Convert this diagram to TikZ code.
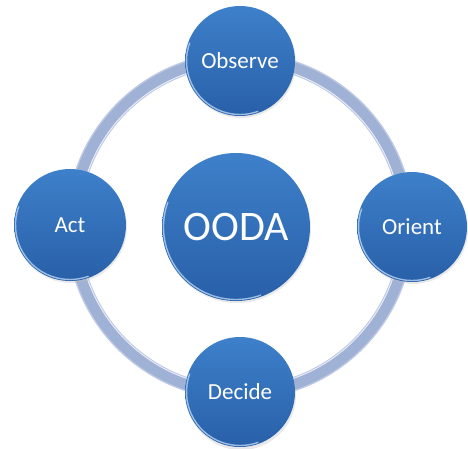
\documentclass[tikz,border=0pt]{standalone}
\usepackage{fontspec}
\setmainfont{Carlito}
\definecolor{blueTop}{RGB}{62,128,202}
\definecolor{blueBot}{RGB}{40,96,168}
\definecolor{ringEdge}{RGB}{190,202,228}
\definecolor{ringMid}{RGB}{160,177,214}
\definecolor{rimCol}{RGB}{175,205,240}
\tikzset{
  ball/.style={circle, inner sep=0pt, draw=none, top color=blueTop, bottom color=blueBot,
    text=white, font=\fontsize{23}{27}\selectfont},
  bigball/.style={ball, font=\fontsize{42}{48}\selectfont},
  rimline/.style={draw=rimCol, line width=1.4pt, opacity=0.85},
  shade/.style={fill=black!25, opacity=0.35, draw=none},
}
\begin{document}
\begin{tikzpicture}[x=1pt,y=1pt]
\useasboundingbox (0,0) rectangle (468,448);
\coordinate (ringc) at (240,222);
\draw[ringEdge, line width=14pt] (ringc) circle[radius=167];
\draw[ringMid, line width=11pt] (ringc) circle[radius=167];
\draw[white, opacity=0.8, line width=0.8pt] (ringc) circle[radius=161.5];
% shadows
\fill[shade] (241,385) circle[radius=55];
\fill[shade] (413,219) circle[radius=55];
\fill[shade] (241,53) circle[radius=55];
\fill[shade] (71,221) circle[radius=56];
\fill[shade] (237,219) circle[radius=74];
% nodes
\node[ball, minimum size=110pt] (obs) at (240,387) {Observe};
\node[ball, minimum size=110pt] (ori) at (412,221) {Orient};
\node[ball, minimum size=110pt] (dec) at (240,56) {Decide};
\node[ball, minimum size=112pt] (act) at (70,223) {Act};
\node[bigball, minimum size=148pt] (ooda) at (236,221) {OODA};
% rims
\draw[rimline] (obs.center) ++(160:53.5) arc[start angle=160, end angle=290, radius=53.5];
\draw[rimline] (ori.center) ++(160:53.5) arc[start angle=160, end angle=290, radius=53.5];
\draw[rimline] (dec.center) ++(160:53.5) arc[start angle=160, end angle=290, radius=53.5];
\draw[rimline] (act.center) ++(160:54.5) arc[start angle=160, end angle=290, radius=54.5];
\draw[rimline] (ooda.center) ++(160:72.5) arc[start angle=160, end angle=290, radius=72.5];
\end{tikzpicture}
\end{document}
